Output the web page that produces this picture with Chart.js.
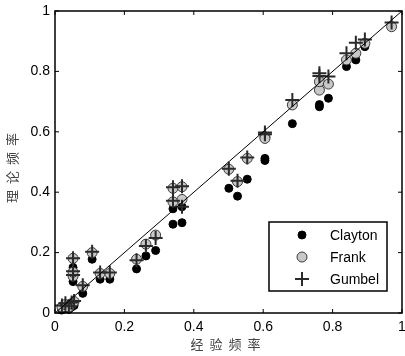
<!DOCTYPE html>
<html>
<head>
<meta charset="utf-8">
<script src="https://cdn.jsdelivr.net/npm/chart.js@4.4.0/dist/chart.umd.min.js"></script>
<style>
  html, body { margin: 0; padding: 0; background: #fff; }
  #wrap { width: 405px; height: 356px; }
</style>
</head>
<body>
<div id="wrap"><canvas id="chart" width="405" height="356"></canvas></div>
<script>
// 经验频率 (x) 与三种 copula 的理论频率 (y)
const empirical = [0.020, 0.030, 0.040, 0.048, 0.055, 0.052, 0.052, 0.052, 0.080, 0.107,
  0.130, 0.158, 0.235, 0.262, 0.290, 0.340, 0.340, 0.366, 0.366, 0.501,
  0.526, 0.554, 0.605, 0.605, 0.684, 0.762, 0.762, 0.788, 0.840, 0.867,
  0.893, 0.970];
const clayton = [0.010, 0.018, 0.012, 0.020, 0.025, 0.104, 0.120, 0.151, 0.065, 0.178,
  0.112, 0.112, 0.146, 0.189, 0.207, 0.294, 0.345, 0.299, 0.352, 0.413,
  0.387, 0.443, 0.512, 0.505, 0.627, 0.683, 0.690, 0.711, 0.816, 0.838,
  0.882, 0.950];
const frank = [0.020, 0.028, 0.020, 0.030, 0.038, 0.122, 0.135, 0.181, 0.088, 0.200,
  0.131, 0.131, 0.178, 0.228, 0.258, 0.413, 0.368, 0.418, 0.376, 0.476,
  0.435, 0.512, 0.584, 0.578, 0.689, 0.738, 0.766, 0.758, 0.838, 0.860,
  0.893, 0.948];
const gumbel = [0.025, 0.032, 0.022, 0.035, 0.040, 0.126, 0.138, 0.181, 0.092, 0.203,
  0.134, 0.134, 0.175, 0.222, 0.248, 0.416, 0.372, 0.420, 0.352, 0.478,
  0.438, 0.515, 0.598, 0.592, 0.705, 0.794, 0.785, 0.783, 0.860, 0.895,
  0.906, 0.962];
const seriesNames = ['Clayton', 'Frank', 'Gumbel'];
const tickValues = [0, 0.2, 0.4, 0.6, 0.8, 1];
const tickLabels = ['0', '0.2', '0.4', '0.6', '0.8', '1'];
const diagonal = [0, 1];

const toPoints = (ys) => empirical.map((x, i) => ({ x: x, y: ys[i] }));

const styles = [
  { pointStyle: 'circle', radius: 4, fill: '#000000', stroke: '#000000', width: 1 },
  { pointStyle: 'circle', radius: 5, fill: '#c8c8c8', stroke: '#3a3a3a', width: 1 },
  { pointStyle: 'cross', radius: 7, fill: '#2a2a2a', stroke: '#2a2a2a', width: 2 },
];

Chart.defaults.font.family = '"Liberation Sans", Arial, sans-serif';
Chart.defaults.font.size = 14;
Chart.defaults.color = '#000';

// caixa + ticks para dentro, estilo MATLAB
const boxPlugin = {
  id: 'box',
  afterDatasetsDraw(chart) {
    const { ctx, chartArea: a, scales } = chart;
    ctx.save();
    ctx.strokeStyle = '#000';
    ctx.lineWidth = 1.5;
    ctx.strokeRect(a.left, a.top, a.right - a.left, a.bottom - a.top);
    ctx.lineWidth = 1;
    const len = 4;
    tickValues.forEach((v) => {
      const px = scales.x.getPixelForValue(v);
      const py = scales.y.getPixelForValue(v);
      ctx.beginPath();
      ctx.moveTo(px, a.bottom); ctx.lineTo(px, a.bottom - len);
      ctx.moveTo(px, a.top); ctx.lineTo(px, a.top + len);
      ctx.moveTo(a.left, py); ctx.lineTo(a.left + len, py);
      ctx.moveTo(a.right, py); ctx.lineTo(a.right - len, py);
      ctx.stroke();
    });

    // titulos dos eixos
    ctx.fillStyle = '#444';
    ctx.font = '13px "Noto Sans CJK SC", sans-serif';
    ctx.textAlign = 'center';
    ctx.textBaseline = 'middle';
    ctx.letterSpacing = '6px';
    ctx.fillText('经验频率', (a.left + a.right) / 2, 344);
    ctx.save();
    ctx.translate(12, (a.top + a.bottom) / 2 + 3);
    ctx.rotate(-Math.PI / 2);
    ctx.fillText('理论频率', 0, 0);
    ctx.restore();
    ctx.letterSpacing = '0px';

    // legenda
    const lx = 269, ly = 222, lw = 118, lh = 69;
    ctx.fillStyle = '#fff';
    ctx.fillRect(lx, ly, lw, lh);
    ctx.lineWidth = 1.5;
    ctx.strokeStyle = '#000';
    ctx.strokeRect(lx, ly, lw, lh);
    ctx.font = '14px "Liberation Sans", Arial, sans-serif';
    ctx.textAlign = 'left';
    seriesNames.forEach((name, i) => {
      const s = styles[i];
      const y = ly + 13 + i * 22;
      ctx.fillStyle = s.fill;
      ctx.strokeStyle = s.stroke;
      ctx.lineWidth = s.width;
      Chart.helpers.drawPoint(ctx, { pointStyle: s.pointStyle, radius: s.radius, rotation: 0, borderWidth: s.width }, lx + 33, y);
      ctx.fillStyle = '#000';
      ctx.fillText(name, lx + 61, y + 1);
    });
    ctx.restore();
  },
};

const scatterSets = [clayton, frank, gumbel].map((ys, i) => ({
  type: 'scatter',
  label: seriesNames[i],
  data: toPoints(ys),
  pointStyle: styles[i].pointStyle,
  pointRadius: styles[i].radius,
  pointHoverRadius: styles[i].radius,
  backgroundColor: styles[i].fill,
  borderColor: styles[i].stroke,
  borderWidth: styles[i].width,
  order: 4 - i,
  clip: false,
}));

const fmtTick = (v) => tickLabels[tickValues.indexOf(v)] ?? String(v);

new Chart(document.getElementById('chart'), {
  data: {
    datasets: [
      {
        type: 'line',
        label: 'diag',
        data: diagonal.map((v) => ({ x: v, y: v })),
        borderColor: '#000',
        borderWidth: 1,
        pointRadius: 0,
        order: 1,
      },
      ...scatterSets,
    ],
  },
  options: {
    responsive: false,
    animation: false,
    layout: { autoPadding: false, padding: { top: 11, right: 3, left: 0, bottom: 0 } },
    plugins: { legend: { display: false }, tooltip: { enabled: false } },
    scales: {
      x: {
        type: 'linear', min: 0, max: 1,
        afterBuildTicks: (s) => { s.ticks = tickValues.map((v) => ({ value: v })); },
        afterFit: (s) => { s.height = 43; s.paddingLeft = 0; s.paddingRight = 0; },
        grid: { display: false, drawTicks: false },
        border: { display: false },
        ticks: { padding: 6, maxRotation: 0, callback: fmtTick },
      },
      y: {
        type: 'linear', min: 0, max: 1,
        afterBuildTicks: (s) => { s.ticks = tickValues.map((v) => ({ value: v })); },
        afterFit: (s) => { s.width = 55; s.paddingTop = 0; s.paddingBottom = 0; },
        grid: { display: false, drawTicks: false },
        border: { display: false },
        ticks: { padding: 5, callback: fmtTick },
      },
    },
  },
  plugins: [boxPlugin],
});
</script>
</body>
</html>
